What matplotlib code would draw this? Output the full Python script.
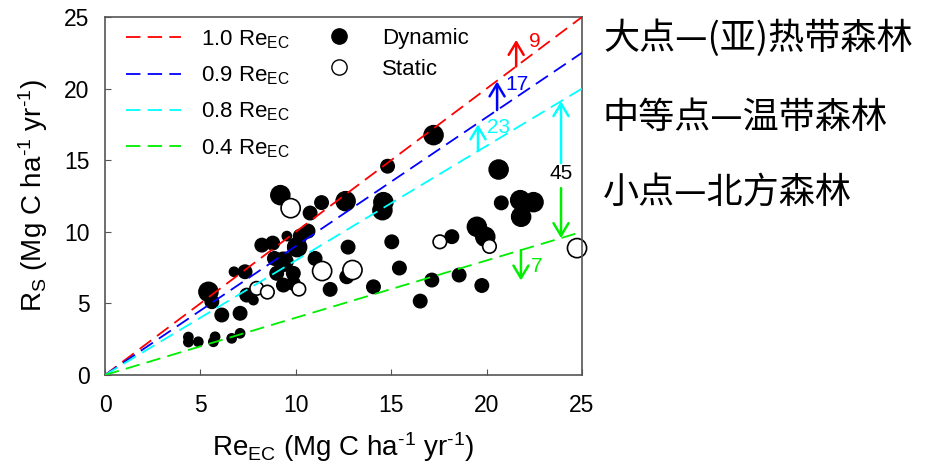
import numpy as np
import matplotlib
matplotlib.use("Agg")
import matplotlib.pyplot as plt
from matplotlib.lines import Line2D

plt.rcParams['font.family'] = ['Liberation Sans', 'DejaVu Sans']
plt.rcParams['mathtext.default'] = 'regular'

# dynamic sites: Re_EC, Rs, size class (L / M / S)
dyn_x = [9.19, 11.35, 12.61, 10.75, 9.53, 10.23, 10.64, 8.22, 8.79, 10.07,
         12.74, 11.01, 8.88, 9.35, 9.00, 9.87, 12.67, 6.76, 7.34, 9.87,
         9.35, 11.80, 14.07, 5.42, 5.60, 7.43, 7.78, 6.12, 7.08, 4.37,
         4.37, 4.89, 5.68, 5.77, 6.64, 7.08, 17.22, 14.81, 20.63, 14.59,
         14.54, 20.77, 21.76, 22.46, 21.81, 19.49, 19.93, 18.18, 15.03, 15.43,
         17.13, 18.56, 19.75, 16.52]
dyn_y = [12.56, 12.04, 12.14, 11.31, 9.70, 9.70, 10.05, 9.07, 9.21, 8.93,
         8.93, 8.14, 8.14, 7.91, 7.10, 7.10, 6.86, 7.21, 7.21, 6.40,
         6.28, 5.98, 6.16, 5.81, 5.12, 5.58, 5.23, 4.19, 4.31, 2.65,
         2.30, 2.32, 2.32, 2.67, 2.56, 2.91, 16.75, 14.58, 14.35, 12.07,
         11.51, 12.02, 12.21, 12.07, 11.05, 10.35, 9.65, 9.66, 9.30, 7.47,
         6.63, 6.98, 6.25, 5.16]
dyn_cls = ['L', 'M', 'L', 'M', 'S', 'M', 'M', 'M', 'M', 'L',
           'M', 'M', 'M', 'L', 'M', 'M', 'M', 'S', 'M', 'M',
           'M', 'M', 'M', 'L', 'M', 'M', 'S', 'M', 'M', 'S',
           'S', 'S', 'S', 'S', 'S', 'S', 'L', 'M', 'L', 'L',
           'L', 'M', 'L', 'L', 'L', 'L', 'L', 'M', 'M', 'M',
           'M', 'M', 'M', 'M']

# static sites
sta_x = [9.73, 11.38, 12.97, 24.74, 7.95, 8.51, 10.16, 17.55, 20.15]
sta_y = [11.65, 7.26, 7.33, 8.86, 6.05, 5.79, 6.00, 9.30, 8.98]
sta_cls = ['L', 'L', 'L', 'L', 'M', 'M', 'M', 'M', 'M']

# reference lines: fraction of Re_EC
ratios = [1.0, 0.9, 0.8, 0.4]
ratio_colors = ['#ff0000', '#0000ff', '#00ffff', '#00ee00']

# gap arrows: x, y start, y end, label, label pos, colour
gaps = [
    (21.55, 21.55, 23.4, '9', (22.2, 23.3), '#ff0000'),
    (20.55, 18.50, 20.5, '17', (21.0, 20.3), '#0000ff'),
    (19.55, 15.64, 17.5, '23', (20.0, 17.3), '#00ffff'),
    (23.90, 14.80, 19.12, '', None, '#00ffff'),
    (23.90, 13.05, 9.56, '', None, '#00ee00'),
    (21.80, 8.72, 6.60, '7', (22.3, 7.6), '#00ee00'),
]

size_map = {'L': 190, 'M': 95, 'S': 45}

fig = plt.figure(figsize=(9.27, 4.70), dpi=100)
ax = fig.add_axes([105 / 927, 95 / 470, 477 / 927, 358 / 470])

xx = np.array([0, 25])
line_handles = []
for r, c in zip(ratios, ratio_colors):
    h, = ax.plot(xx, r * xx, color=c, lw=1.3, dashes=(8, 4), zorder=3)
    line_handles.append(h)

ax.scatter(dyn_x, dyn_y, s=[size_map[c] for c in dyn_cls], color='black',
           edgecolor='black', lw=1, zorder=2)
ax.scatter(sta_x, sta_y, s=[size_map[c] for c in sta_cls], color='white',
           edgecolor='black', lw=1.2, zorder=2, clip_on=False)

for x, y0, y1, lab, pos, col in gaps:
    ax.annotate('', xy=(x, y1), xytext=(x, y0),
                arrowprops=dict(arrowstyle='->,head_length=0.5,head_width=0.3',
                                color=col, lw=1.8, mutation_scale=18,
                                shrinkA=0, shrinkB=0), zorder=4)
    if lab:
        ax.text(pos[0], pos[1], lab, color=col, fontsize=15,
                ha='left', va='center')
ax.text(23.9, 14.1, '45', color='black', fontsize=15, ha='center', va='center',
        zorder=5)

ax.set_xlim(0, 25)
ax.set_ylim(0, 25)
ax.set_xticks(range(0, 26, 5))
ax.set_yticks(range(0, 26, 5))
ax.tick_params(direction='in', length=4, labelsize=16.5, color='#555555')
ax.tick_params(axis='x', pad=14)
ax.tick_params(axis='y', pad=11)
for sp in ax.spines.values():
    sp.set_color('#555555')
    sp.set_linewidth(1.2)

unit = '(Mg C ha$^{\u20101}$ yr$^{\u20101}$)'
ax.set_xlabel('Re$_{EC}$ ' + unit, fontsize=20, labelpad=9)
ax.set_ylabel('R$_S$ ' + unit, fontsize=20, labelpad=10)

leg1 = ax.legend(line_handles, ['%.1f Re$_{EC}$' % r for r in ratios],
                 loc='upper left', bbox_to_anchor=(0.02, 1.0), frameon=False,
                 fontsize=16, handlelength=2.5, handletextpad=0.9,
                 labelspacing=0.62, borderaxespad=0.3, borderpad=0.2)
ax.add_artist(leg1)

mk_handles = [
    Line2D([], [], ls='none', marker='o', ms=11, mfc='black', mec='black'),
    Line2D([], [], ls='none', marker='o', ms=11, mfc='white', mec='black'),
]
ax.legend(mk_handles, ['Dynamic', 'Static'], loc='upper left',
          bbox_to_anchor=(0.445, 1.0), frameon=False, fontsize=16,
          handlelength=1.0, handletextpad=1.4, labelspacing=0.45,
          borderaxespad=0.3, borderpad=0.2)

cjk = ['Noto Sans CJK SC', 'DejaVu Sans']
notes = ['大点—(亚)热带森林', '中等点—温带森林', '小点—北方森林']
note_y = [38, 118, 193]
for t, y in zip(notes, note_y):
    fig.text(603 / 927, 1 - y / 470, t, family=cjk, fontsize=26,
             ha='left', va='center')

fig.savefig('out.png', dpi=100)
